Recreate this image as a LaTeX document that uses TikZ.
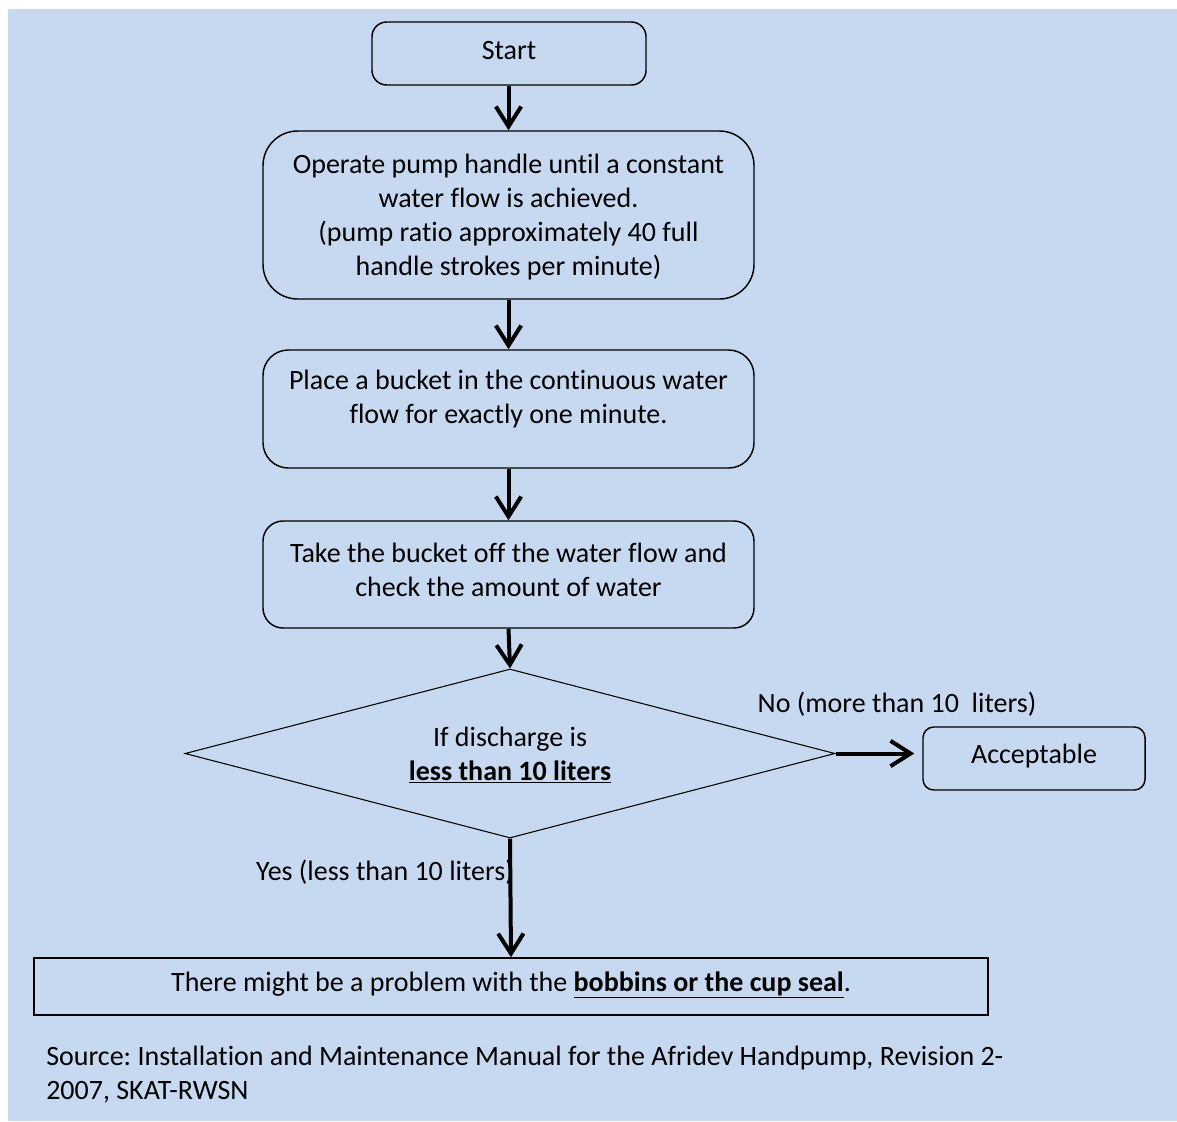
\documentclass[tikz,border=0pt]{standalone}
\usepackage{fontspec}
\setmainfont{Carlito}[Ligatures={NoCommon}]
\usetikzlibrary{arrows.meta,shapes.geometric}
\definecolor{panel}{HTML}{C6D9F0}
\frenchspacing
\begin{document}
\begin{tikzpicture}[x=0.75pt,y=-0.75pt,
  every node/.style={font=\fontsize{21}{25.5}\selectfont},
  box/.style={draw, line width=1.1pt, inner sep=0pt},
  txt/.style={align=center, inner sep=0pt},
  flow/.style={line width=3pt, -{Straight Barb[length=15pt,width=19pt,line width=3pt]}}]
  % page and panel
  \useasboundingbox (0,0) rectangle (1177,1121);
  \fill[white] (0,0) rectangle (1177,1121);
  \fill[panel] (8,9) rectangle (1177,1121);

  % boxes
  \node[box, rounded corners=11pt, minimum width=205.5pt, minimum height=47.25pt] (start) at (509,53.5) {};
  \node[txt] (tstart) at (509,51) {Start};

  \node[box, rounded corners=26pt, minimum width=368.25pt, minimum height=126pt] (b2) at (508.5,215) {};
  \node[txt] (t2) at (508.5,217) {Operate pump handle until a constant\\water flow is achieved.\\(pump ratio approximately 40 full\\handle strokes per minute)};

  \node[box, rounded corners=19pt, minimum width=368.25pt, minimum height=88.5pt] (b3) at (508.5,409) {};
  \node[txt] (t3) at (508.5,399) {Place a bucket in the continuous water\\flow for exactly one minute.};

  \node[box, rounded corners=15pt, minimum width=368.25pt, minimum height=80.25pt] (b4) at (508.5,574.5) {};
  \node[txt] (t4) at (508.5,570) {Take the bucket off the water flow and\\check the amount of water};

  \node[draw, line width=0.8pt, diamond, inner sep=0pt, minimum width=487.5pt, minimum height=126.75pt] (dec) at (510,753.5) {};
  \node[txt] (tdec) at (510,755) {If discharge is\\\underline{\textbf{less than 10 liters}}};

  \node[box, rounded corners=8pt, minimum width=166.5pt, minimum height=47.25pt] (acc) at (1034,758.5) {};
  \node[txt] (tacc) at (1034,756) {Acceptable};

  \node[box, minimum width=715.5pt, minimum height=42.75pt] (prob) at (511,986.5) {};
  \node[txt] (tprob) at (511,985) {There might be a problem with the \underline{\textbf{bobbins or the cup seal}}.};

  % connectors
  \draw[flow] (start.south -| b2.north) -- (b2.north);
  \draw[flow] (b2.south) -- (b3.north);
  \draw[flow] (b3.south) -- (b4.north);
  \draw[flow] (b4.south) -- (dec.north);
  \draw[flow, shorten >=6pt] (dec.east) -- (dec.east -| acc.west);
  \draw[flow] (dec.south) -- (prob.north);

  % branch labels
  \node[txt] (lno) at (897,704) {No (more than 10\ \ liters)};
  \node[txt] (lyes) at (385,872) {Yes (less than 10 liters)};

  % source note
  \node[txt, anchor=west, align=left] (src) at (46,1075) {Source: Installation and Maintenance Manual for the Afridev Handpump, Revision 2-\\2007, SKAT-RWSN};
\end{tikzpicture}
\end{document}
